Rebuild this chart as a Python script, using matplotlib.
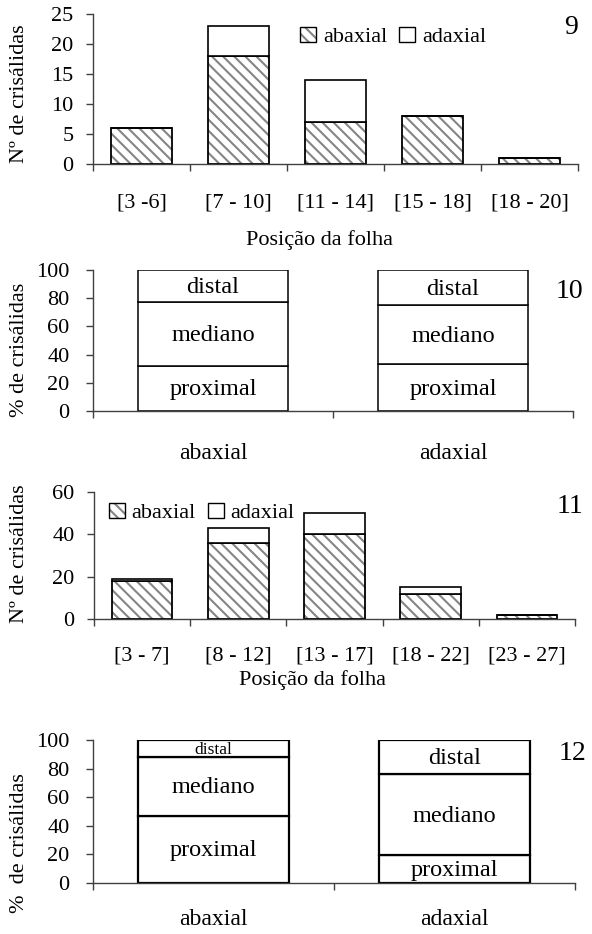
import matplotlib
matplotlib.use('Agg')
import matplotlib.pyplot as plt
from matplotlib.patches import Patch
import numpy as np

plt.rcParams['font.family'] = ['Liberation Serif', 'DejaVu Serif']
plt.rcParams['hatch.linewidth'] = 1.5

W, H = 592, 934
HATCH = '#858585'
HPAT = '\\\\\\'
AXC = '#404040'

# fig 9 - numero de crisalidas por posicao da folha
classes9 = ['[3 -6]', '[7 - 10]', '[11 - 14]', '[15 - 18]', '[18 - 20]']
abaxial9 = [6, 18, 7, 8, 1]
adaxial9 = [0, 5, 7, 0, 0]

# fig 11
classes11 = ['[3 - 7]', '[8 - 12]', '[13 - 17]', '[18 - 22]', '[23 - 27]']
abaxial11 = [18, 36, 40, 12, 2]
adaxial11 = [1, 7, 10, 3, 0]

# fig 10 and 12 - % por zona da folha
faces = ['abaxial', 'adaxial']
zones = ['proximal', 'mediano', 'distal']
proximal10 = [32, 33]
mediano10 = [45, 42]
distal10 = [23, 25]
proximal12 = [47, 19.5]
mediano12 = [41, 56.5]
distal12 = [12, 24]


def px_axes(fig, left, right, top, bottom):
    return fig.add_axes([left / W, 1 - bottom / H, (right - left) / W, (bottom - top) / H])


def base_style(ax, labels, pad_x, pad_y, xsize):
    n = len(labels)
    ax.set_xlim(-0.5, n - 0.5)
    for s in ['top', 'right']:
        ax.spines[s].set_visible(False)
    for s in ['left', 'bottom']:
        ax.spines[s].set_color(AXC)
        ax.spines[s].set_linewidth(1.0)
    ax.set_xticks(np.arange(n + 1) - 0.5)
    ax.set_xticklabels([])
    ax.set_xticks(np.arange(n), minor=True)
    ax.set_xticklabels(labels, minor=True)
    ax.tick_params(axis='x', which='major', direction='out', length=5, width=1, color=AXC)
    ax.tick_params(axis='x', which='minor', length=0, pad=pad_x, labelsize=xsize)
    ax.tick_params(axis='y', direction='out', length=5, width=1, color=AXC,
                   pad=pad_y, labelsize=16)


def count_panel(ax, labels, ab, ad, ymax, ystep, pad_x):
    x = np.arange(len(labels))
    ab = np.array(ab)
    ax.bar(x, ab, width=0.63, color='white', edgecolor=HATCH, hatch=HPAT, linewidth=0)
    ax.bar(x, ab, width=0.63, fill=False, edgecolor='black', linewidth=1.3)
    ax.bar(x, ad, bottom=ab, width=0.63, color='white', edgecolor='black', linewidth=1.2)
    ax.set_ylim(0, ymax)
    ax.set_yticks(np.arange(0, ymax + 1, ystep))
    base_style(ax, labels, pad_x, 9, 16)


def pct_panel(ax, prox, med, dist, lw, sizes):
    x = np.arange(2)
    bottom = np.zeros(2)
    for vals, name, sz in zip([prox, med, dist], zones, sizes):
        vals = np.array(vals, dtype=float)
        ax.bar(x, vals, bottom=bottom, width=0.625, color='white',
               edgecolor='black', linewidth=lw)
        for xi, v, b, s in zip(x, vals, bottom, sz):
            ax.text(xi, b + v / 2 - 1, name, ha='center', va='center', fontsize=s)
        bottom = bottom + vals
    ax.set_ylim(0, 100)
    ax.set_yticks(np.arange(0, 101, 20))


def legend(ax, x, y):
    h_ab = (Patch(facecolor='white', edgecolor=HATCH, hatch=HPAT, linewidth=0),
            Patch(fill=False, edgecolor='black', linewidth=1))
    h_ad = Patch(facecolor='white', edgecolor='black', linewidth=1)
    ax.legend([h_ab, h_ad], faces, loc='center left', bbox_to_anchor=(x, y), ncol=2,
              frameon=False, handlelength=0.72, handleheight=0.72, handletextpad=0.3,
              columnspacing=0.55, borderpad=0, borderaxespad=0, fontsize=16)


fig = plt.figure(figsize=(W / 100, H / 100), dpi=100)

ax9 = px_axes(fig, 93, 578, 14, 164)
count_panel(ax9, classes9, abaxial9, adaxial9, 25, 5, 21)
legend(ax9, 0.427, 0.847)
ax9.text(0.468, -0.507, 'Posição da folha', transform=ax9.transAxes,
         ha='center', va='center', fontsize=16)

ax10 = px_axes(fig, 93, 573, 270, 411)
pct_panel(ax10, proximal10, mediano10, distal10, 1.1, [[17.5, 17.5]] * 3)
base_style(ax10, faces, 23, 12, 17)

ax11 = px_axes(fig, 94, 575, 492, 619)
count_panel(ax11, classes11, abaxial11, adaxial11, 60, 20, 20)
legend(ax11, 0.031, 0.835)
ax11.text(0.455, -0.48, 'Posição da folha', transform=ax11.transAxes,
          ha='center', va='center', fontsize=16)

ax12 = px_axes(fig, 93, 575, 740, 883)
pct_panel(ax12, proximal12, mediano12, distal12, 1.6, [[17.5, 17.5], [17.5, 17.5], [12.5, 17.5]])
base_style(ax12, faces, 19, 12, 17)

# y labels
for txt, yc in [('Nº de crisálidas', 94), ('% de crisálidas', 350),
                ('Nº de crisálidas', 554), ('%  de crisálidas', 843)]:
    fig.text(20 / W, 1 - yc / H, txt, rotation=90, ha='center', va='center', fontsize=16)

# panel numbers
for num, xr, yb in [('9', 578, 34), ('10', 583, 298), ('11', 583, 513), ('12', 586, 760)]:
    fig.text(xr / W, 1 - yb / H, num, ha='right', va='baseline', fontsize=20)

fig.savefig('out.png', dpi=100)
